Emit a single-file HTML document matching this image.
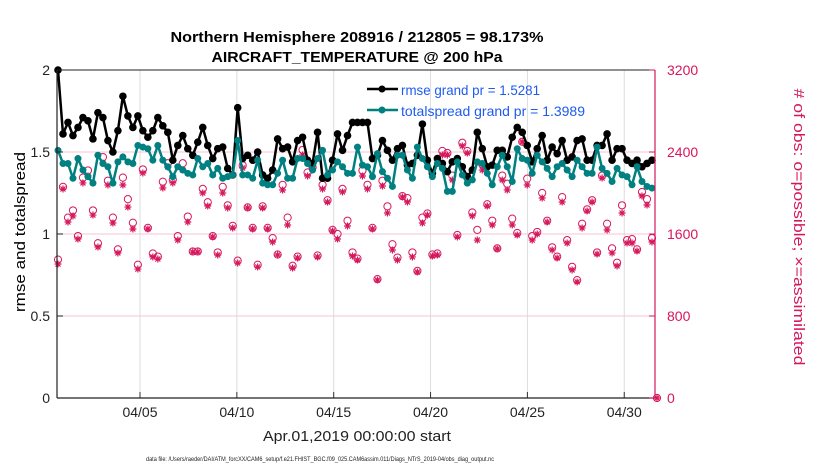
<!DOCTYPE html>
<html><head><meta charset="utf-8"><style>
body{margin:0;background:#fff;}
svg{display:block;font-family:"Liberation Sans",sans-serif;}
</style></head><body>
<svg id="chart" width="830" height="470" viewBox="0 0 830 470">
<g id="grid"></g>
<g id="marks"></g>
<g id="axes"></g>
<text x="357" y="42" text-anchor="middle" font-size="15" font-weight="bold" textLength="373" lengthAdjust="spacingAndGlyphs">Northern Hemisphere 208916 / 212805 = 98.173%</text>
<text x="357" y="62" text-anchor="middle" font-size="15" font-weight="bold" textLength="291" lengthAdjust="spacingAndGlyphs">AIRCRAFT_TEMPERATURE @ 200 hPa</text>
<text transform="translate(25,232) rotate(-90)" text-anchor="middle" font-size="15" textLength="160" lengthAdjust="spacingAndGlyphs">rmse and totalspread</text>
<text transform="translate(794,227) rotate(90)" text-anchor="middle" font-size="15" fill="#d6175c" textLength="277" lengthAdjust="spacingAndGlyphs"># of obs: o=possible; ×=assimilated</text>
<text x="357" y="441" text-anchor="middle" font-size="15" fill="#222" textLength="188" lengthAdjust="spacingAndGlyphs">Apr.01,2019 00:00:00 start</text>
<text x="320" y="461" text-anchor="middle" font-size="6" fill="#222" textLength="348" lengthAdjust="spacingAndGlyphs">data file: /Users/raeder/DAI/ATM_forcXX/CAM6_setup/f.e21.FHIST_BGC.f09_025.CAM6assim.011/Diags_NTrS_2019-04/obs_diag_output.nc</text>
<g>
<line x1="367" y1="89" x2="398" y2="89" stroke="#000" stroke-width="2.5"/>
<circle cx="382" cy="89" r="3.5" fill="#000"/>
<text x="401" y="95" font-size="14" fill="#1e5bf0" textLength="139" lengthAdjust="spacingAndGlyphs">rmse grand pr = 1.5281</text>
<line x1="367" y1="110" x2="398" y2="110" stroke="#008080" stroke-width="2.5"/>
<circle cx="382" cy="110" r="3.5" fill="#008080"/>
<text x="401" y="116" font-size="14" fill="#1e5bf0" textLength="184" lengthAdjust="spacingAndGlyphs">totalspread grand pr = 1.3989</text>
</g>
</svg>
<script>
const rmse=[2.00,1.61,1.68,1.60,1.65,1.71,1.69,1.58,1.74,1.71,1.57,1.50,1.63,1.84,1.72,1.65,1.72,1.63,1.59,1.63,1.71,1.66,1.62,1.45,1.54,1.60,1.52,1.48,1.56,1.65,1.54,1.46,1.52,1.53,1.40,1.36,1.77,1.46,1.48,1.45,1.50,
1.36,1.34,1.39,1.58,1.52,1.53,1.44,1.57,1.59,1.45,1.43,1.62,1.34,1.34,1.45,1.61,1.51,1.60,1.68,1.68,1.68,1.68,1.46,1.48,1.57,1.51,1.45,1.52,1.54,1.42,1.43,1.48,1.67,1.45,1.37,1.46,1.43,1.38,1.44,1.46,
1.41,1.35,1.39,1.62,1.52,1.41,1.42,1.51,1.51,1.47,1.59,1.65,1.62,1.54,1.44,1.52,1.60,1.45,1.53,1.49,1.57,1.45,1.47,1.57,1.58,1.45,1.45,1.54,1.54,1.61,1.45,1.52,1.52,1.45,1.43,1.45,1.41,1.43,1.45];
const spread=[1.51,1.43,1.43,1.34,1.46,1.39,1.35,1.31,1.48,1.43,1.41,1.31,1.44,1.47,1.44,1.43,1.54,1.53,1.52,1.45,1.54,1.45,1.41,1.35,1.41,1.39,1.37,1.36,1.46,1.41,1.43,1.36,1.40,1.34,1.35,1.36,1.57,1.36,1.36,1.34,1.45,
1.31,1.30,1.30,1.37,1.45,1.34,1.34,1.46,1.46,1.43,1.39,1.46,1.51,1.36,1.39,1.44,1.41,1.37,1.37,1.53,1.42,1.41,1.35,1.49,1.38,1.34,1.29,1.48,1.48,1.39,1.34,1.53,1.46,1.41,1.35,1.43,1.40,1.26,1.26,1.44,
1.36,1.31,1.33,1.44,1.43,1.37,1.30,1.41,1.48,1.41,1.32,1.52,1.46,1.45,1.37,1.48,1.44,1.40,1.35,1.41,1.43,1.39,1.35,1.45,1.41,1.37,1.37,1.53,1.40,1.37,1.32,1.40,1.36,1.35,1.30,1.41,1.32,1.29,1.28];
const assim=[1307,2039,1717,1776,1551,2098,2166,1785,1473,2293,2078,1707,1415,2078,1863,1649,1258,2195,1649,1376,1356,2049,2254,2098,1541,2224,1717,1424,1424,2000,1873,1571,1395,2000,1854,1659,1317,2244,1854,1649,1278,
1854,1649,1522,1395,2029,1688,1268,1366,2371,2166,2234,1376,2039,1912,1629,1551,2010,1678,1385,1346,2166,2039,1649,1151,2068,1805,1444,1346,1961,1912,1376,1229,1707,1785,1385,1395,2371,2371,2127,1571,
2459,2390,1776,1541,2224,1873,1688,1454,2127,2029,1688,1590,2498,2078,1541,1600,1951,1717,1444,1366,1912,1512,1249,1132,1659,1824,1912,1405,2146,1639,1415,1288,1805,1512,1512,1434,1971,1883,1522,0];
const possible=[1350,2060,1760,1830,1580,2150,2220,1830,1510,2350,2120,1760,1450,2150,1940,1710,1300,2230,1660,1410,1380,2110,2290,2130,1580,2290,1770,1430,1430,2040,1910,1580,1420,2060,1880,1680,1340,2270,1860,1660,1300,
1870,1660,1560,1400,2080,1760,1290,1380,2420,2200,2250,1390,2080,1930,1640,1600,2040,1730,1420,1360,2220,2080,1660,1160,2120,1870,1500,1370,1970,1950,1420,1240,1760,1800,1400,1410,2410,2390,2170,1590,
2490,2410,1810,1640,2280,1890,1730,1460,2170,2090,1750,1610,2500,2140,1580,1620,2000,1730,1470,1380,1960,1540,1280,1150,1700,1840,1930,1420,2170,1700,1460,1320,1880,1540,1550,1450,2010,1940,1560,0];
const xTickLabels=["04/05","04/10","04/15","04/20","04/25","04/30"];
const xTickDays=[4,9,14,19,24,29];
const yTicksLeft=[0,0.5,1,1.5,2];
const yTicksRight=[0,800,1600,2400,3200];

const NS="http://www.w3.org/2000/svg";
const X0=57,X1=655,Y0=398,Y1=70;
const dayX=d=>140+(d-4)*19.37;
const t0=(58-140)/19.37+4, dt=594/119/19.37;
const xIdx=i=>dayX(t0+i*dt);
const yL=v=>Y0-(v/2)*(Y0-Y1);
const yR=v=>Y0-(v/3200)*(Y0-Y1);
function mk(tag,attrs,parent){const e=document.createElementNS(NS,tag);for(const k in attrs)e.setAttribute(k,attrs[k]);parent.appendChild(e);return e;}
const grid=document.getElementById('grid'),marks=document.getElementById('marks'),axes=document.getElementById('axes');

xTickDays.forEach((d,i)=>{
  const x=dayX(d);
  const g=mk('line',{x1:x,x2:x,y1:Y1,y2:Y0,stroke:'#dcdcdc','stroke-width':1},grid);
  
  
  mk('line',{x1:x,x2:x,y1:Y0,y2:Y0-6,stroke:'#333'},axes);
  const t=mk('text',{x:x,y:417,'text-anchor':'middle','font-size':14,fill:'#222'},axes);
  t.textContent=xTickLabels[i];
  
  
});
yTicksRight.forEach(v=>{
  if(v===0||v===3200)return;
  const g=mk('line',{x1:X0,x2:X1,y1:yR(v),y2:yR(v),stroke:'#f7c6d6','stroke-width':1},grid);
  
  
});
assim.forEach((v,i)=>{
  const x=xIdx(i);
  const c=mk('circle',{cx:x,cy:yR(possible[i]),r:3.6,fill:'none',stroke:'#d6175c','stroke-width':1},marks);
  
  
  const y=yR(v);
  const s=mk('path',{d:`M${x-3.5},${y}H${x+3.5}M${x},${y-3.5}V${y+3.5}M${x-2.5},${y-2.5}L${x+2.5},${y+2.5}M${x-2.5},${y+2.5}L${x+2.5},${y-2.5}`,stroke:'#d6175c','stroke-width':1.2},marks);
  
  
});
function series(arr,color,name,star){
  const p=mk('polyline',{points:arr.map((v,i)=>xIdx(i)+','+yL(v)).join(' '),fill:'none',stroke:color,'stroke-width':2.5,'stroke-linejoin':'round'},marks);
  
  
  arr.forEach((v,i)=>{
    const c=mk('circle',{cx:xIdx(i),cy:yL(v),r:star?3.8:3.5,fill:color},marks);
    
    
  });
}
series(rmse,'#000','rmse',true);
series(spread,'#008080','totalspread',false);

mk('line',{x1:X0,x2:X0,y1:Y1,y2:Y0,stroke:'#222','stroke-width':1.2},axes);
mk('line',{x1:X0,x2:X1,y1:Y0,y2:Y0,stroke:'#222','stroke-width':1.2},axes);
mk('line',{x1:X0,x2:X1,y1:Y1,y2:Y1,stroke:'#222','stroke-width':1},axes);
mk('line',{x1:X1,x2:X1,y1:Y1,y2:Y0,stroke:'#d6175c','stroke-width':1.2},axes);
yTicksLeft.forEach(v=>{
  mk('line',{x1:X0,x2:X0+6,y1:yL(v),y2:yL(v),stroke:'#222'},axes);
  const t=mk('text',{x:X0-7,y:yL(v)+5,'text-anchor':'end','font-size':14,fill:'#222'},axes);
  t.textContent=String(v);
  
  
});
yTicksRight.forEach(v=>{
  mk('line',{x1:X1-6,x2:X1,y1:yR(v),y2:yR(v),stroke:'#d6175c'},axes);
  const t=mk('text',{x:X1+12,y:yR(v)+5,'font-size':14,fill:'#d6175c'},axes);
  t.textContent=String(v);
  
  
});
</script>
</body></html>
